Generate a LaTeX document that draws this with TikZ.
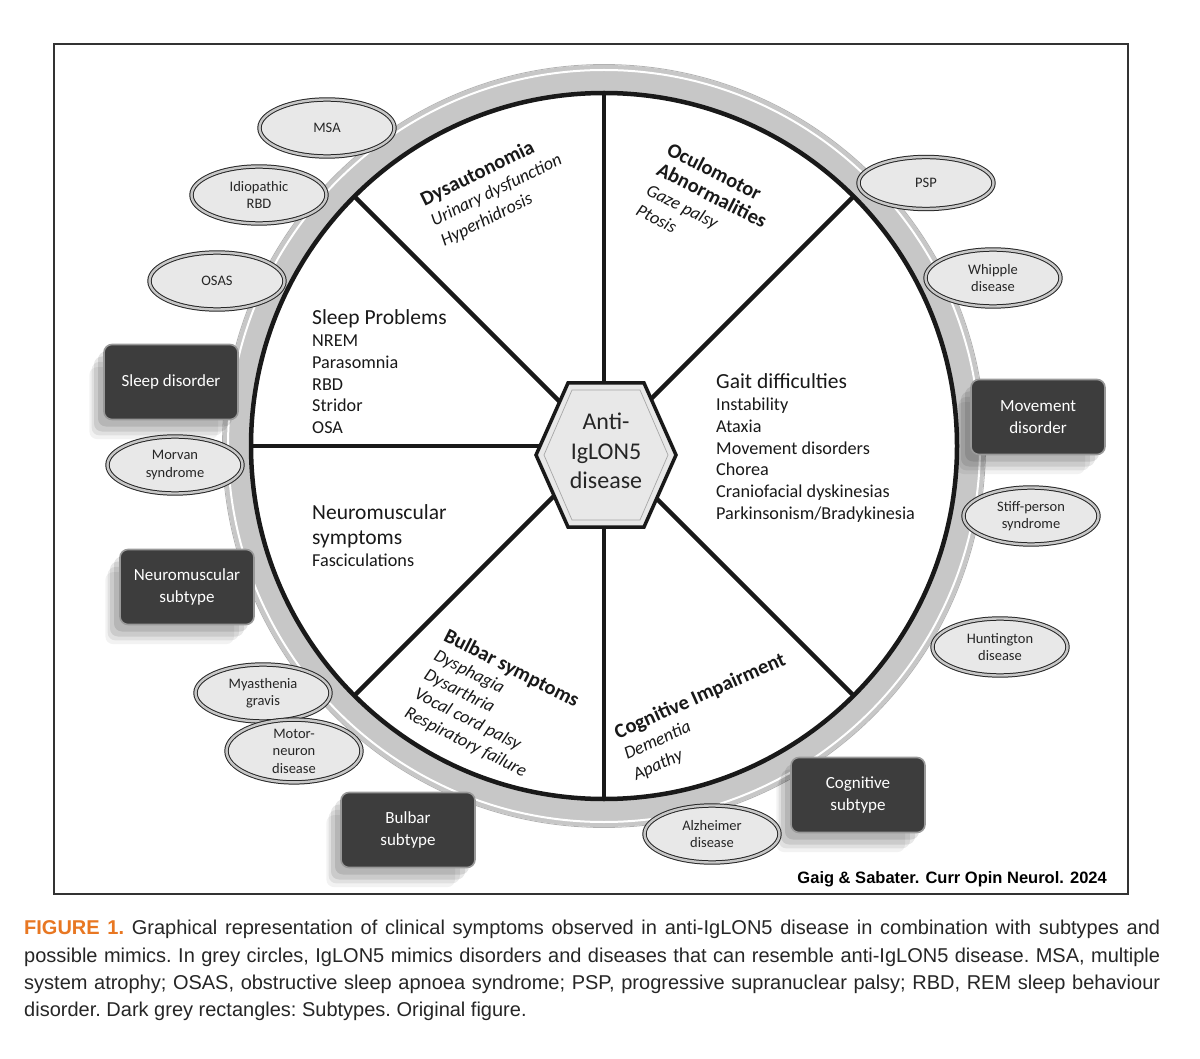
\documentclass[tikz,border=0pt]{standalone}
\usepackage{fontspec}
\setmainfont{Carlito}
\newfontfamily\capfont{Liberation Sans}
\usetikzlibrary{shapes.geometric,shadows}
\definecolor{figorange}{HTML}{E87722}

\begin{document}
\begin{tikzpicture}[x=1pt,y=-1pt,
    spoke/.style={line width=4.5pt, black!90},
    mimic/.style={ellipse, draw=black!85, line width=1pt, double=black!22, double distance=2.4pt,
      fill=black!9, minimum width=135pt, minimum height=57pt, inner sep=0pt, align=center,
      text=black!85, font=\fontsize{14.5}{17.5}\selectfont},
    blurshadow/.style={general shadow={fill=black, opacity=0.05, shadow xshift=-18pt, shadow yshift=-22pt, shadow scale=0.96},
      general shadow={fill=black, opacity=0.07, shadow xshift=-14pt, shadow yshift=-17pt, shadow scale=0.98},
      general shadow={fill=black, opacity=0.09, shadow xshift=-10pt, shadow yshift=-12pt},
      general shadow={fill=black, opacity=0.10, shadow xshift=-6pt, shadow yshift=-7pt}},
    subtype/.style={rounded corners=8pt, draw=black!40, line width=1.6pt, fill=black!76, text=white,
      minimum width=134pt, minimum height=75pt, inner sep=0pt, align=center,
      font=\fontsize{17}{22}\selectfont, blurshadow},
    secthead/.style={anchor=north west, inner sep=0pt, align=left, text=black!90, font=\fontsize{21.5}{25}\selectfont},
    sectitems/.style={anchor=north west, inner sep=0pt, align=left, text=black!90, font=\fontsize{18.2}{21.7}\selectfont},
    slanted/.style={anchor=north west, inner sep=0pt, align=left, text=black!90, font=\fontsize{18}{22.5}\selectfont},
  ]
  \fill[white] (0,0) rectangle (1200,1059);
  \useasboundingbox (0,0) rectangle (1200,1059);

  % Drawing frame
  \draw[black!80, line width=1.5pt] (54,44) rectangle (1128,894);

  % Drawing ring
  \coordinate (c) at (604,446);
  \fill[black!22, even odd rule] (c) circle[radius=381] (c) circle[radius=353];
  \draw[white, line width=2pt] (c) circle[radius=376];
  \draw[black!30, line width=0.8pt] (c) circle[radius=381.5];

  % Drawing wheel
  \draw[black!90, line width=4.5pt, fill=white] (c) circle[radius=353];
  \foreach \a in {45,90,135,180,225,270,315}
    \draw[spoke] (c) -- ++(\a:353);

  % Drawing hexagon
  \coordinate (h) at (606,455);
  \draw[black!90, line width=3.5pt, fill=black!9, shift={(h)}]
    (-70,0) -- (-38,-72) -- (38,-72) -- (70,0) -- (38,72) -- (-38,72) -- cycle;
  \draw[black!35, line width=0.7pt, shift={(h)}]
    (-62,0) -- (-34,-65) -- (34,-65) -- (62,0) -- (34,65) -- (-34,65) -- cycle;
  \node[inner sep=0pt, align=center, text=black!85, font=\fontsize{24}{29.5}\selectfont] (core) at (606,451) {Anti-\\IgLON5\\disease};

  % Marking subtypes
  \node[subtype] (sleepdis) at (171,382) {Sleep disorder};
  \node[subtype] (movedis) at (1038,417) {Movement\\disorder};
  \node[subtype] (nmsub) at (187,587) {Neuromuscular\\subtype};
  \node[subtype] (bulbsub) at (408,830) {Bulbar\\subtype};
  \node[subtype] (cogsub) at (858,795) {Cognitive\\subtype};

  % Marking mimics
  \node[mimic] (msa) at (327,128) {MSA};
  \node[mimic] (irbd) at (259,195) {Idiopathic\\RBD};
  \node[mimic] (osas) at (217,281) {OSAS};
  \node[mimic] (morvan) at (175,465) {Morvan\\syndrome};
  \node[mimic, minimum height=52pt] (psp) at (926,183) {PSP};
  \node[mimic] (whipple) at (993,278) {Whipple\\disease};
  \node[mimic] (stiff) at (1031,516) {Stiff-person\\syndrome};
  \node[mimic] (huntington) at (1000,647) {Huntington\\disease};
  \node[mimic] (myasthenia) at (263,693) {Myasthenia\\gravis};
  \node[mimic, minimum height=62pt] (mnd) at (294,751) {Motor-\\neuron\\disease};
  \node[mimic] (alzheimer) at (712,834) {Alzheimer\\disease};

  % Marking sectors
  \node[secthead] (sleephead) at (312,309) {Sleep Problems};
  \node[sectitems] (sleepitems) at (312,335) {NREM\\Parasomnia\\RBD\\Stridor\\OSA};
  \node[secthead] (gaithead) at (716,373) {Gait difficulties};
  \node[sectitems] (gaititems) at (716,398) {Instability\\Ataxia\\Movement disorders\\Chorea\\Craniofacial dyskinesias\\Parkinsonism/Bradykinesia};
  \node[secthead] (nmhead) at (312,504) {Neuromuscular\\symptoms};
  \node[sectitems] (nmitems) at (312,554) {Fasciculations};
  \node[slanted, rotate=26] (dysaut) at (418,193) {{\fontsize{20.5}{22.5}\selectfont\bfseries Dysautonomia}\\\textit{Urinary dysfunction}\\\textit{Hyperhidrosis}};
  \node[slanted, rotate=-27] (oculo) at (672,141) {{\fontsize{20.5}{22.5}\selectfont\bfseries Oculomotor}\\{\fontsize{20.5}{22.5}\selectfont\bfseries Abnormalities}\\\textit{Gaze palsy}\\\textit{Ptosis}};
  \node[slanted, rotate=-27, font=\fontsize{18}{21.5}\selectfont] (bulbar) at (449,627) {{\fontsize{20.5}{21.5}\selectfont\bfseries Bulbar symptoms}\\\textit{Dysphagia}\\\textit{Dysarthria}\\\textit{Vocal cord palsy}\\\textit{Respiratory failure}};
  \node[slanted, rotate=24] (cognitive) at (612,726) {{\fontsize{20.5}{22.5}\selectfont\bfseries Cognitive Impairment}\\\textit{Dementia}\\\textit{Apathy}};

  % Marking credit and caption
  \node[anchor=base east, inner sep=0pt, font=\capfont\bfseries\fontsize{16.5}{20}\selectfont] (credit) at (1107,883) {Gaig \& Sabater. Curr Opin Neurol. 2024};
  \node[anchor=north west, inner sep=0pt, align=left, text=black!85, font=\capfont\frenchspacing\fontsize{20}{27.4}\selectfont] (caption) at (24,920)
    {\makebox[1136pt][s]{\textcolor{figorange}{\textbf{FIGURE 1.}} Graphical representation of clinical symptoms observed in anti-IgLON5 disease in combination with subtypes and}\\
     \makebox[1136pt][s]{possible mimics. In grey circles, IgLON5 mimics disorders and diseases that can resemble anti-IgLON5 disease. MSA, multiple}\\
     \makebox[1136pt][s]{system atrophy; OSAS, obstructive sleep apnoea syndrome; PSP, progressive supranuclear palsy; RBD, REM sleep behaviour}\\
     disorder. Dark grey rectangles: Subtypes. Original figure.};
\end{tikzpicture}
\end{document}
